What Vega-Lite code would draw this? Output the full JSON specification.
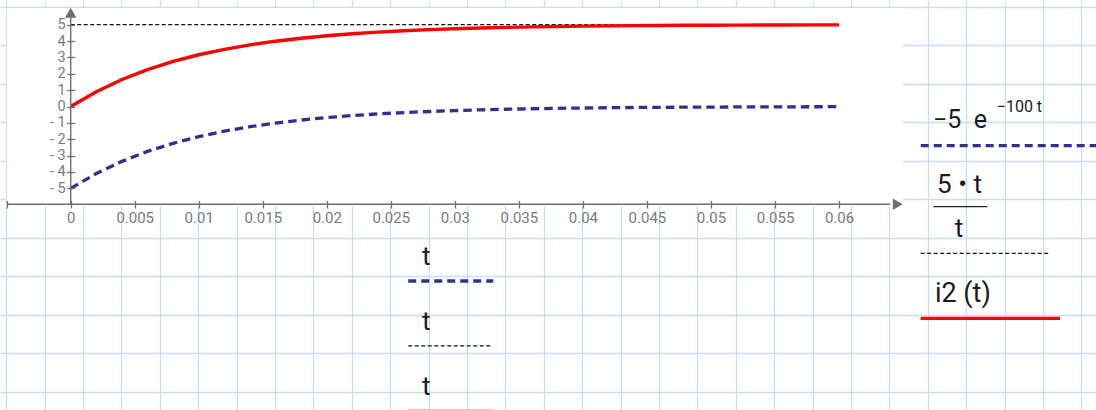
{
  "$schema": "https://vega.github.io/schema/vega-lite/v6.json",
  "width": 1096,
  "height": 410,
  "autosize": {"type": "none"},
  "padding": 0,
  "background": "white",
  "config": {"view": {"stroke": null}, "font": "Roboto"},
  "datasets": {
    "curves": [
      {"t": 0, "a": -5, "c": 5, "i": 0},
      {"t": 0.002, "a": -4.094, "c": 5, "i": 0.906},
      {"t": 0.004, "a": -3.352, "c": 5, "i": 1.648},
      {"t": 0.006, "a": -2.744, "c": 5, "i": 2.256},
      {"t": 0.008, "a": -2.247, "c": 5, "i": 2.753},
      {"t": 0.010, "a": -1.839, "c": 5, "i": 3.161},
      {"t": 0.012, "a": -1.506, "c": 5, "i": 3.494},
      {"t": 0.014, "a": -1.233, "c": 5, "i": 3.767},
      {"t": 0.016, "a": -1.010, "c": 5, "i": 3.990},
      {"t": 0.018, "a": -0.827, "c": 5, "i": 4.173},
      {"t": 0.020, "a": -0.677, "c": 5, "i": 4.323},
      {"t": 0.022, "a": -0.554, "c": 5, "i": 4.446},
      {"t": 0.024, "a": -0.454, "c": 5, "i": 4.546},
      {"t": 0.026, "a": -0.371, "c": 5, "i": 4.629},
      {"t": 0.028, "a": -0.304, "c": 5, "i": 4.696},
      {"t": 0.030, "a": -0.249, "c": 5, "i": 4.751},
      {"t": 0.032, "a": -0.204, "c": 5, "i": 4.796},
      {"t": 0.034, "a": -0.167, "c": 5, "i": 4.833},
      {"t": 0.036, "a": -0.137, "c": 5, "i": 4.863},
      {"t": 0.038, "a": -0.112, "c": 5, "i": 4.888},
      {"t": 0.040, "a": -0.092, "c": 5, "i": 4.908},
      {"t": 0.042, "a": -0.075, "c": 5, "i": 4.925},
      {"t": 0.044, "a": -0.061, "c": 5, "i": 4.939},
      {"t": 0.046, "a": -0.050, "c": 5, "i": 4.950},
      {"t": 0.048, "a": -0.041, "c": 5, "i": 4.959},
      {"t": 0.050, "a": -0.034, "c": 5, "i": 4.966},
      {"t": 0.052, "a": -0.028, "c": 5, "i": 4.972},
      {"t": 0.054, "a": -0.023, "c": 5, "i": 4.977},
      {"t": 0.056, "a": -0.019, "c": 5, "i": 4.981},
      {"t": 0.058, "a": -0.015, "c": 5, "i": 4.985},
      {"t": 0.060, "a": -0.012, "c": 5, "i": 4.988}
    ],
    "plotbox": [{"t": -0.004975, "t2": 0.06499, "v": 6.017, "v2": -6.078}],
    "axislines": [
      {"t": -0.004975, "t2": 0.0640, "v": -5.974, "v2": -5.974},
      {"t": 0, "t2": 0, "v": -5.974, "v2": 5.6}
    ],
    "arrows": [
      {"dir": "right", "t": 0.06459, "v": -5.974},
      {"dir": "up", "t": 0, "v": 5.724}
    ],
    "keys": [
      {"s": "a", "t": 0.02636, "t2": 0.0330, "v": -10.66},
      {"s": "c", "t": 0.02636, "t2": 0.0328, "v": -14.62},
      {"s": "i", "t": 0.02636, "t2": 0.0331, "v": -18.63},
      {"s": "a", "t": 0.06638, "t2": 0.0801, "v": -2.395},
      {"s": "c", "t": 0.06638, "t2": 0.07635, "v": -8.968},
      {"s": "i", "t": 0.06638, "t2": 0.07726, "v": -12.94}
    ],
    "fraction": [{"t": 0.06737, "t2": 0.07158, "v": -6.121}],
    "texts": [
      {"item": "xname", "label": "t", "t": 0.02777, "v": -9.682},
      {"item": "xname", "label": "t", "t": 0.02777, "v": -13.65},
      {"item": "xname", "label": "t", "t": 0.02777, "v": -17.62},
      {"item": "frac", "label": "5 • t", "t": 0.06941, "v": -5.302},
      {"item": "frac", "label": "t", "t": 0.06937, "v": -7.953},
      {"item": "base", "label": "−5\u00a0\u00a0e", "t": 0.06734, "v": -1.332},
      {"item": "sup", "label": "−100\u00a0t", "t": 0.07232, "v": -0.318},
      {"item": "name", "label": "i2 (t)", "t": 0.06749, "v": -11.92}
    ],
    "gridorigin": [{"gx": 0, "gy": 0}]
  },
  "layer": [
    {
      "data": {"name": "gridorigin"},
      "mark": {"type": "point", "opacity": 0},
      "encoding": {
        "x": {"field": "gx", "type": "quantitative",
          "scale": {"domain": [-1.164, 27.378], "nice": false, "zero": false},
          "axis": {"orient": "top", "values": [-1,0,1,2,3,4,5,6,7,8,9,10,11,12,13,14,15,16,17,18,19,20,21,22,23,24,25,26,27],
            "grid": true, "gridColor": "#c6dcf8", "gridWidth": 1.3, "labels": false, "ticks": false, "domain": false, "title": null, "zindex": 0}},
        "y": {"field": "gy", "type": "quantitative",
          "scale": {"domain": [-0.174, 10.475], "reverse": true, "nice": false, "zero": false},
          "axis": {"orient": "right", "values": [0,1,2,3,4,5,6,7,8,9,10],
            "grid": true, "gridColor": "#c6dcf8", "gridWidth": 1.3, "labels": false, "ticks": false, "domain": false, "title": null, "zindex": 0}}
      }
    },
    {
      "data": {"name": "plotbox"},
      "mark": {"type": "rect", "fill": "#ffffff", "opacity": 1},
      "encoding": {
        "x": {"field": "t", "type": "quantitative",
          "scale": {"domain": [-0.005521, 0.08007], "nice": false, "zero": false},
          "axis": {"orient": "bottom", "offset": -209.5,
            "values": [-0.005, 0, 0.005, 0.01, 0.015, 0.02, 0.025, 0.03, 0.035, 0.04, 0.045, 0.05, 0.055, 0.06],
            "format": "~g", "labelExpr": "datum.value < 0 ? '' : datum.label",
            "domain": false, "grid": false, "tickSize": 7.5, "tickColor": "#707070", "tickWidth": 1.3,
            "labelColor": "#7a7a7a", "labelFont": "Roboto", "labelFontSize": 15, "labelPadding": 2.5,
            "labelFlush": false, "labelOverlap": false, "labelAngle": 0, "title": null, "zindex": 2}},
        "x2": {"field": "t2"},
        "y": {"field": "v", "type": "quantitative",
          "scale": {"domain": [-18.54, 6.506], "nice": false, "zero": false},
          "axis": {"orient": "left", "offset": -74.7,
            "values": [-5, -4, -3, -2, -1, 0, 1, 2, 3, 4, 5],
            "labelExpr": "datum.value < 0 ? '- ' + abs(datum.value) : '' + datum.value",
            "domain": false, "grid": false, "tickSize": 8, "tickColor": "#707070", "tickWidth": 1.3,
            "labelColor": "#7a7a7a", "labelFont": "Roboto", "labelFontSize": 14.5, "labelPadding": 1.5,
            "labelFlush": false, "labelOverlap": false, "title": null, "zindex": 2}},
        "y2": {"field": "v2"}
      }
    },
    {
      "data": {"name": "curves"},
      "mark": {"type": "line", "color": "#2e3192", "strokeWidth": 3.3, "strokeDash": [8.5, 5]},
      "encoding": {
        "x": {"field": "t", "type": "quantitative", "axis": null, "scale": {"domain": [-0.005521, 0.08007], "nice": false, "zero": false}},
        "y": {"field": "a", "type": "quantitative", "axis": null, "scale": {"domain": [-18.54, 6.506], "nice": false, "zero": false}},
        "order": {"field": "t"}
      }
    },
    {
      "data": {"name": "curves"},
      "mark": {"type": "line", "color": "#111111", "strokeWidth": 1.2, "strokeDash": [4, 2.5]},
      "encoding": {
        "x": {"field": "t", "type": "quantitative", "axis": null, "scale": {"domain": [-0.005521, 0.08007], "nice": false, "zero": false}},
        "y": {"field": "c", "type": "quantitative", "axis": null, "scale": {"domain": [-18.54, 6.506], "nice": false, "zero": false}},
        "order": {"field": "t"}
      }
    },
    {
      "data": {"name": "curves"},
      "mark": {"type": "line", "color": "#ff0000", "strokeWidth": 3.4},
      "encoding": {
        "x": {"field": "t", "type": "quantitative", "axis": null, "scale": {"domain": [-0.005521, 0.08007], "nice": false, "zero": false}},
        "y": {"field": "i", "type": "quantitative", "axis": null, "scale": {"domain": [-18.54, 6.506], "nice": false, "zero": false}},
        "order": {"field": "t"}
      }
    },
    {
      "data": {"name": "axislines"},
      "mark": {"type": "rule", "color": "#6e6e6e", "strokeWidth": 1.4},
      "encoding": {
        "x": {"field": "t", "type": "quantitative", "axis": null, "scale": {"domain": [-0.005521, 0.08007], "nice": false, "zero": false}},
        "x2": {"field": "t2"},
        "y": {"field": "v", "type": "quantitative", "axis": null, "scale": {"domain": [-18.54, 6.506], "nice": false, "zero": false}},
        "y2": {"field": "v2"}
      }
    },
    {
      "data": {"name": "arrows"},
      "mark": {"type": "point", "filled": true, "color": "#6e6e6e", "opacity": 1, "size": 130},
      "encoding": {
        "x": {"field": "t", "type": "quantitative", "axis": null, "scale": {"domain": [-0.005521, 0.08007], "nice": false, "zero": false}},
        "y": {"field": "v", "type": "quantitative", "axis": null, "scale": {"domain": [-18.54, 6.506], "nice": false, "zero": false}},
        "shape": {"field": "dir", "type": "nominal", "scale": {"domain": ["right", "up"], "range": ["triangle-right", "triangle-up"]}, "legend": null}
      }
    },
    {
      "data": {"name": "keys"},
      "transform": [{"filter": "datum.s == 'a'"}],
      "mark": {"type": "rule", "color": "#2e3192", "strokeWidth": 3.3, "strokeDash": [8, 5]},
      "encoding": {
        "x": {"field": "t", "type": "quantitative", "axis": null, "scale": {"domain": [-0.005521, 0.08007], "nice": false, "zero": false}},
        "x2": {"field": "t2"},
        "y": {"field": "v", "type": "quantitative", "axis": null, "scale": {"domain": [-18.54, 6.506], "nice": false, "zero": false}}
      }
    },
    {
      "data": {"name": "keys"},
      "transform": [{"filter": "datum.s == 'c'"}],
      "mark": {"type": "rule", "color": "#111111", "strokeWidth": 1.2, "strokeDash": [4, 2.5]},
      "encoding": {
        "x": {"field": "t", "type": "quantitative", "axis": null, "scale": {"domain": [-0.005521, 0.08007], "nice": false, "zero": false}},
        "x2": {"field": "t2"},
        "y": {"field": "v", "type": "quantitative", "axis": null, "scale": {"domain": [-18.54, 6.506], "nice": false, "zero": false}}
      }
    },
    {
      "data": {"name": "keys"},
      "transform": [{"filter": "datum.s == 'i'"}],
      "mark": {"type": "rule", "color": "#ff0000", "strokeWidth": 3.4},
      "encoding": {
        "x": {"field": "t", "type": "quantitative", "axis": null, "scale": {"domain": [-0.005521, 0.08007], "nice": false, "zero": false}},
        "x2": {"field": "t2"},
        "y": {"field": "v", "type": "quantitative", "axis": null, "scale": {"domain": [-18.54, 6.506], "nice": false, "zero": false}}
      }
    },
    {
      "data": {"name": "fraction"},
      "mark": {"type": "rule", "color": "#222222", "strokeWidth": 1.3},
      "encoding": {
        "x": {"field": "t", "type": "quantitative", "axis": null, "scale": {"domain": [-0.005521, 0.08007], "nice": false, "zero": false}},
        "x2": {"field": "t2"},
        "y": {"field": "v", "type": "quantitative", "axis": null, "scale": {"domain": [-18.54, 6.506], "nice": false, "zero": false}}
      }
    },
    {
      "data": {"name": "texts"},
      "transform": [{"filter": "datum.item == 'xname' || datum.item == 'frac'"}],
      "mark": {"type": "text", "font": "Roboto", "fontSize": 26, "align": "center", "baseline": "alphabetic", "color": "#1a1a1a"},
      "encoding": {
        "x": {"field": "t", "type": "quantitative", "axis": null, "scale": {"domain": [-0.005521, 0.08007], "nice": false, "zero": false}},
        "y": {"field": "v", "type": "quantitative", "axis": null, "scale": {"domain": [-18.54, 6.506], "nice": false, "zero": false}},
        "text": {"field": "label"}
      }
    },
    {
      "data": {"name": "texts"},
      "transform": [{"filter": "datum.item == 'name'"}],
      "mark": {"type": "text", "font": "Roboto", "fontSize": 27, "align": "left", "baseline": "alphabetic", "color": "#1a1a1a"},
      "encoding": {
        "x": {"field": "t", "type": "quantitative", "axis": null, "scale": {"domain": [-0.005521, 0.08007], "nice": false, "zero": false}},
        "y": {"field": "v", "type": "quantitative", "axis": null, "scale": {"domain": [-18.54, 6.506], "nice": false, "zero": false}},
        "text": {"field": "label"}
      }
    },
    {
      "data": {"name": "texts"},
      "transform": [{"filter": "datum.item == 'base'"}],
      "mark": {"type": "text", "font": "Roboto", "fontSize": 25, "align": "left", "baseline": "alphabetic", "color": "#1a1a1a"},
      "encoding": {
        "x": {"field": "t", "type": "quantitative", "axis": null, "scale": {"domain": [-0.005521, 0.08007], "nice": false, "zero": false}},
        "y": {"field": "v", "type": "quantitative", "axis": null, "scale": {"domain": [-18.54, 6.506], "nice": false, "zero": false}},
        "text": {"field": "label"}
      }
    },
    {
      "data": {"name": "texts"},
      "transform": [{"filter": "datum.item == 'sup'"}],
      "mark": {"type": "text", "font": "Roboto", "fontSize": 16, "align": "left", "baseline": "alphabetic", "color": "#1a1a1a"},
      "encoding": {
        "x": {"field": "t", "type": "quantitative", "axis": null, "scale": {"domain": [-0.005521, 0.08007], "nice": false, "zero": false}},
        "y": {"field": "v", "type": "quantitative", "axis": null, "scale": {"domain": [-18.54, 6.506], "nice": false, "zero": false}},
        "text": {"field": "label"}
      }
    }
  ],
  "resolve": {"scale": {"x": "independent", "y": "independent"}, "axis": {"x": "independent", "y": "independent"}}
}
